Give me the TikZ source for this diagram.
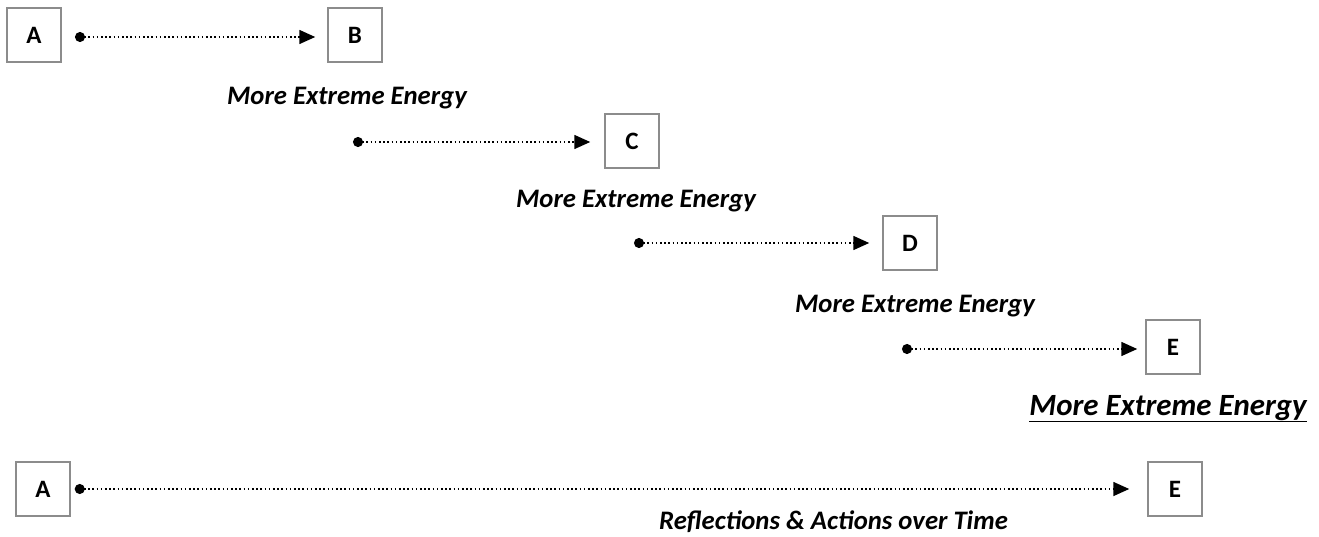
\documentclass[tikz,border=0pt]{standalone}
\usepackage{fontspec}
\setmainfont{Carlito}
\usetikzlibrary{arrows.meta}
\tikzset{
  box/.style={draw=gray!90,line width=1.5pt,minimum width=54pt,minimum height=54pt,inner sep=0pt,font=\fontsize{25}{30}\selectfont\bfseries},
  flow/.style={line width=1.6pt,dash pattern=on 1.6pt off 2.6pt,{Circle[length=10pt,width=10pt]}-{Triangle[length=16pt,width=14pt]}},
  lbl/.style={anchor=base,inner sep=0pt,font=\fontsize{26.7}{32}\selectfont\bfseries\itshape}
}
\begin{document}
\begin{tikzpicture}[x=1pt,y=-1pt]
        \useasboundingbox (0,0) rectangle (1319,537);
        % steps
        \node[box] (a1) at (34,35) {A};
        \node[box] (b) at (355,35) {B};
        \node[box] (c) at (632,141) {C};
        \node[box] (d) at (910,243) {D};
        \node[box] (e1) at (1173,347) {E};
        \coordinate (s1) at (75,37);
        \coordinate (s2) at (353,142);
        \coordinate (s3) at (634,243);
        \coordinate (s4) at (902,349);
        \draw[flow,shorten >=12pt] (s1) -- (s1 -| b.west);
        \draw[flow,shorten >=14pt] (s2) -- (s2 -| c.west);
        \draw[flow,shorten >=13pt] (s3) -- (s3 -| d.west);
        \draw[flow,shorten >=8pt] (s4) -- (s4 -| e1.west);
        \node[lbl] (l1) at (347,105) {More Extreme Energy};
        \node[lbl] (l2) at (636,208) {More Extreme Energy};
        \node[lbl] (l3) at (915,312) {More Extreme Energy};
        \node[lbl,font=\fontsize{30.9}{36}\selectfont\bfseries\itshape] (l4) at (1168,415) {\underline{More Extreme Energy}};
        % whole span
        \node[box] (a2) at (43,489) {A};
        \node[box] (e2) at (1175,489) {E};
        \draw[flow,shorten <=4pt,shorten >=18pt] (a2.east) -- (e2.west);
        \node[lbl,anchor=base west] (l5) at (659,529) {Reflections \& Actions over Time};
    \end{tikzpicture}
\end{document}
